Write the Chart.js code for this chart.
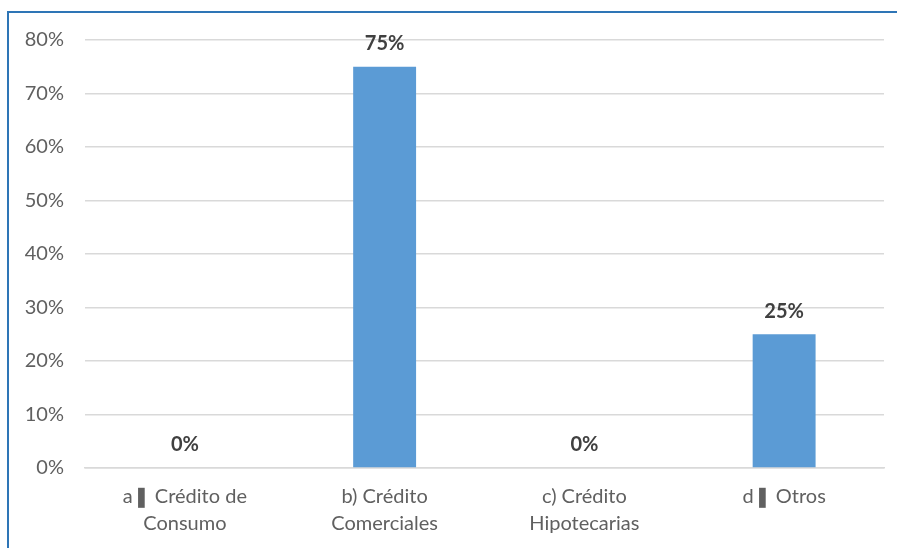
<!DOCTYPE html>
<html>
<head>
<meta charset="utf-8">
<script src="https://cdn.jsdelivr.net/npm/chart.js@4.4.1/dist/chart.umd.min.js"></script>
<style>
    html, body { margin: 0; padding: 0; background: #fff; }
    #wrap { position: relative; width: 897px; height: 548px; }
    #frame {
        position: absolute; left: 7px; top: 11px; right: -4px; bottom: -4px;
        border-left: 2px solid #2E75B6; border-top: 2px solid #2E75B6;
    }
    canvas { position: absolute; left: 0; top: 0; }
</style>
</head>
<body>
<div id="wrap">
    <div id="frame"></div>
    <canvas id="chart" width="897" height="548"></canvas>
</div>
<script>
// Categories and values (percent)
const categories = [
    ['a❚ Crédito de', 'Consumo'],
    ['b) Crédito', 'Comerciales'],
    ['c) Crédito', 'Hipotecarias'],
    ['d❚ Otros']
];
const values = [0, 75, 0, 25];
const yTicks = [0, 10, 20, 30, 40, 50, 60, 70, 80];

const FONT = 'Lato, "Open Sans", sans-serif';
const BAR_COLOR = '#5B9BD5';

// Bold percentage labels above each bar
const valueLabels = {
    id: 'valueLabels',
    afterDatasetsDraw(chart) {
        const ctx = chart.ctx;
        const meta = chart.getDatasetMeta(0);
        ctx.save();
        ctx.font = 'bold 20px ' + FONT;
        ctx.fillStyle = '#404040';
        ctx.textAlign = 'center';
        ctx.textBaseline = 'middle';
        meta.data.forEach((bar, i) => {
            ctx.fillText(values[i] + '%', bar.x, bar.y - 23);
        });
        ctx.restore();
    }
};

new Chart(document.getElementById('chart'), {
    type: 'bar',
    data: {
        labels: categories,
        datasets: [{
            data: values,
            backgroundColor: BAR_COLOR,
            barPercentage: 0.63,
            categoryPercentage: 0.5
        }]
    },
    options: {
        responsive: false,
        animation: false,
        layout: { padding: { left: 0, right: 13, top: 40, bottom: 0 } },
        plugins: {
            legend: { display: false },
            tooltip: { enabled: false }
        },
        scales: {
            x: {
                grid: { display: false, drawTicks: false },
                border: { display: true, color: '#d9d9d9', width: 1.5 },
                ticks: {
                    color: '#606060',
                    font: { family: FONT, size: 20, lineHeight: 1.35 },
                    padding: 15,
                    maxRotation: 0
                },
                afterFit(scale) { scale.height = 80; }
            },
            y: {
                min: 0,
                max: 80,
                afterBuildTicks(scale) {
                    scale.ticks = yTicks.map(v => ({ value: v }));
                },
                grid: { color: '#d9d9d9', lineWidth: 1.5, drawTicks: false },
                border: { display: false },
                ticks: {
                    color: '#606060',
                    font: { family: FONT, size: 20 },
                    padding: 21,
                    callback: v => v + '%'
                },
                afterFit(scale) { scale.width = 85; }
            }
        }
    },
    plugins: [valueLabels]
});
</script>
</body>
</html>
